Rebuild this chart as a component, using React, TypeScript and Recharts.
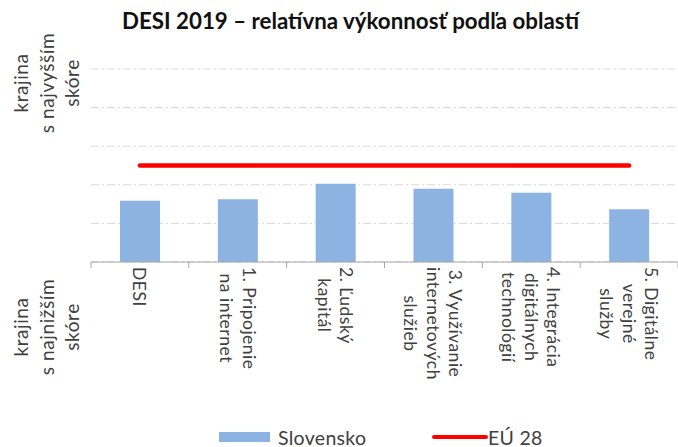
import React from "react";
import {
  Bar,
  CartesianGrid,
  ComposedChart,
  Legend,
  Line,
  XAxis,
  YAxis,
} from "recharts";

const categories = [
  "DESI",
  "1. Pripojenie na internet",
  "2. Ľudský kapitál",
  "3. Využívanie internetových služieb",
  "4. Integrácia digitálnych technológií",
  "5. Digitálne verejné služby",
];
const categoryLines = [
  ["DESI"],
  ["1. Pripojenie", "na internet"],
  ["2. Ľudský", "kapitál"],
  ["3. Využívanie", "internetových", "služieb"],
  ["4. Integrácia", "digitálnych", "technológií"],
  ["5. Digitálne", "verejné", "služby"],
];
const slovensko = [0.318, 0.325, 0.406, 0.38, 0.359, 0.273];
const eu28 = [0.5, 0.5, 0.5, 0.5, 0.5, 0.5];
const yTicks = [0, 0.2, 0.4, 0.6, 0.8, 1];
const topLabel = ["krajina", "s najvyšším", "skóre"];
const bottomLabel = ["krajina", "s najnižším", "skóre"];

const data = categories.map((name, i) => ({
  name,
  slovensko: slovensko[i],
  eu28: eu28[i],
}));

const FONT = "Lato, 'Open Sans', sans-serif";
const BLUE = "#8DB3E2";
const RED = "#FF0000";
const X_SIZE = 17.5;
const X_SPACING = 0.5;

let ctx: CanvasRenderingContext2D | null = null;
function measure(text: string, size: number, spacing: number) {
  if (!ctx) ctx = document.createElement("canvas").getContext("2d");
  if (!ctx) return text.length * size * 0.5;
  ctx.font = `${size}px Lato`;
  return ctx.measureText(text).width + spacing * text.length;
}

function XTick(props: any) {
  const { x, y, payload, index } = props;
  const lines = categoryLines[payload.index ?? index] || [payload.value];
  const half = payload.offset || 49;
  const longest = Math.max(...lines.map((l: string) => measure(l, X_SIZE, X_SPACING)));
  const step = 22.5;
  return (
    <g>
      <line x1={x - half} x2={x - half} y1={y - 5} y2={y + 1} stroke="#A6A6A6" />
      {index === categories.length - 1 && (
        <line x1={x + half} x2={x + half} y1={y - 5} y2={y + 1} stroke="#A6A6A6" />
      )}
      <g transform={`translate(${x},${y}) rotate(90)`}>
        {lines.map((l: string, k: number) => (
          <text
            key={k}
            x={longest / 2}
            y={(k - (lines.length - 1) / 2) * step}
            textAnchor="middle"
            dominantBaseline="central"
            fontFamily={FONT}
            fontSize={X_SIZE}
            letterSpacing={X_SPACING}
            fill="#404040"
          >
            {l}
          </text>
        ))}
      </g>
    </g>
  );
}

function YTick(props: any) {
  const { x, y, payload } = props;
  let lines: string[] | null = null;
  let dy = 0;
  if (payload.value === 1) {
    lines = topLabel;
    dy = 14;
  } else if (payload.value === 0) {
    lines = bottomLabel;
    dy = 65;
  }
  if (!lines) return <g />;
  const step = 25.5;
  return (
    <g transform={`translate(${x - 45},${y + dy}) rotate(-90)`}>
      {lines.map((l, k) => (
        <text
          key={k}
          x={0}
          y={(k - (lines!.length - 1) / 2) * step}
          textAnchor="middle"
          dominantBaseline="central"
          fontFamily={FONT}
          fontSize={19}
          letterSpacing={0.6}
          fill="#404040"
        >
          {l}
        </text>
      ))}
    </g>
  );
}

function LegendContent() {
  return (
    <svg width={678} height={24} style={{ display: "block" }}>
      <rect x={219} y={9} width={51} height={10} fill={BLUE} />
      <text x={278} y={14} dominantBaseline="central" fontFamily={FONT} fontSize={19.5} letterSpacing={0.3} fill="#404040">
        Slovensko
      </text>
      <line x1={434} x2={486} y1={14} y2={14} stroke={RED} strokeWidth={4} strokeLinecap="round" />
      <text x={488} y={14} dominantBaseline="central" fontFamily={FONT} fontSize={19.5} letterSpacing={0.3} fill="#404040">
        EÚ 28
      </text>
    </svg>
  );
}

export default function App() {
  return (
    <div style={{ position: "absolute", left: 0, top: 0, width: 678, height: 447, background: "#fff" }}>
      <div
        style={{
          position: "absolute",
          left: 0,
          top: 7,
          width: 701,
          textAlign: "center",
          fontFamily: FONT,
          fontWeight: 700,
          fontSize: 22.3,
          color: "#111",
          zIndex: 2,
        }}
      >
        DESI 2019 – relatívna výkonnosť podľa oblastí
      </div>
      <ComposedChart
        width={678}
        height={447}
        data={data}
        margin={{ top: 69, right: 0, bottom: 0, left: 0 }}
        barSize={40}
      >
        <CartesianGrid
          vertical={false}
          stroke="#D9D9D9"
          strokeDasharray="8 3 2 3"
        />
        <XAxis
          dataKey="name"
          height={161}
          interval={0}
          tickSize={0}
          tickMargin={5}
          tickLine={false}
          axisLine={{ stroke: "#A6A6A6" }}
          tick={<XTick />}
        />
        <YAxis
          width={91}
          domain={[0, 1]}
          ticks={yTicks}
          axisLine={false}
          tickLine={false}
          tickSize={0}
          tickMargin={0}
          tick={<YTick />}
        />
        <Bar dataKey="slovensko" name="Slovensko" fill={BLUE} isAnimationActive={false} />
        <Line
          dataKey="eu28"
          name="EÚ 28"
          stroke={RED}
          strokeWidth={4.5}
          strokeLinecap="round"
          dot={false}
          activeDot={false}
          isAnimationActive={false}
        />
        <Legend verticalAlign="bottom" height={24} content={<LegendContent />} />
      </ComposedChart>
    </div>
  );
}
